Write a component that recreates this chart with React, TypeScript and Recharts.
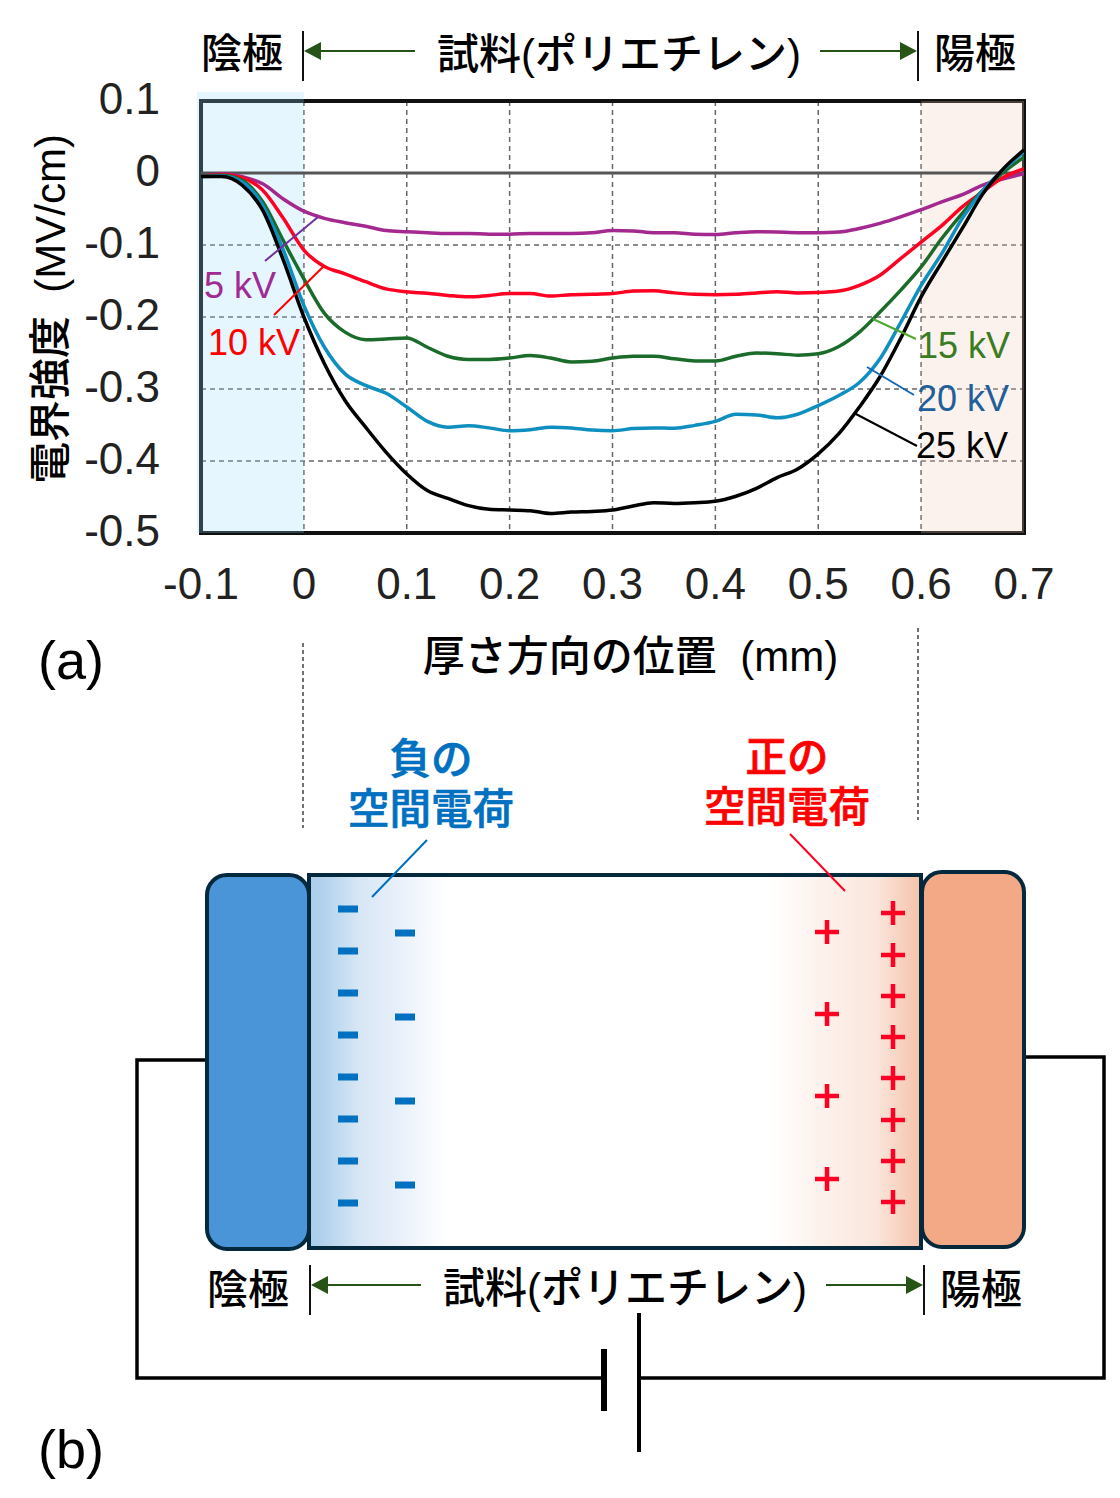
import React from "react";
import {
  LineChart,
  Line,
  XAxis,
  YAxis,
  CartesianGrid,
  ReferenceLine,
  ReferenceArea,
} from "recharts";

const positions = [
  -0.1, -0.08, -0.06, -0.04, -0.02, 0, 0.02, 0.04, 0.06, 0.08, 0.1, 0.12, 0.14, 0.16, 0.18, 0.2, 0.22, 0.24, 0.26, 0.28,
  0.3, 0.32, 0.34, 0.36, 0.38, 0.4, 0.42, 0.44, 0.46, 0.48, 0.5, 0.52, 0.54, 0.56, 0.58, 0.6, 0.62, 0.64, 0.66, 0.68, 0.7,
];
const kv5 = [
  -0.005, -0.001, -0.005, -0.015, -0.036, -0.053, -0.063, -0.069, -0.074, -0.08, -0.0815, -0.083, -0.084, -0.084, -0.085, -0.085, -0.084, -0.084, -0.084, -0.083,
  -0.08, -0.0805, -0.083, -0.083, -0.085, -0.0855, -0.083, -0.0815, -0.082, -0.083, -0.083, -0.082, -0.077, -0.07, -0.061, -0.051, -0.04, -0.03, -0.017, -0.008, -0.001,
];
const kv10 = [
  -0.005, -0.002, -0.0065, -0.024, -0.063, -0.107, -0.13, -0.14, -0.151, -0.161, -0.165, -0.167, -0.17, -0.172, -0.17, -0.1675, -0.1675, -0.171, -0.169, -0.1685,
  -0.1675, -0.164, -0.1635, -0.1665, -0.1685, -0.169, -0.1685, -0.1665, -0.165, -0.1665, -0.166, -0.164, -0.156, -0.142, -0.119, -0.096, -0.073, -0.047, -0.026, -0.006, 0.006,
];
const kv15 = [
  -0.005, -0.003, -0.01, -0.04, -0.094, -0.147, -0.195, -0.221, -0.2315, -0.2305, -0.229, -0.242, -0.2545, -0.259, -0.259, -0.257, -0.2535, -0.257, -0.2625, -0.2615,
  -0.257, -0.2545, -0.2545, -0.258, -0.261, -0.261, -0.2545, -0.25, -0.251, -0.253, -0.251, -0.241, -0.221, -0.193, -0.163, -0.1305, -0.091, -0.056, -0.024, 0.001, 0.022,
];
const kv20 = [
  -0.005, -0.004, -0.0125, -0.045, -0.107, -0.184, -0.242, -0.279, -0.295, -0.306, -0.325, -0.345, -0.353, -0.351, -0.354, -0.358, -0.3565, -0.353, -0.354, -0.357,
  -0.358, -0.355, -0.354, -0.3545, -0.3505, -0.345, -0.335, -0.336, -0.34, -0.335, -0.323, -0.309, -0.291, -0.258, -0.208, -0.156, -0.112, -0.063, -0.024, 0.005, 0.029,
];
const kv25 = [
  -0.005, -0.005, -0.017, -0.052, -0.121, -0.2, -0.265, -0.316, -0.353, -0.388, -0.418, -0.441, -0.452, -0.462, -0.467, -0.468, -0.469, -0.473, -0.471, -0.47,
  -0.468, -0.4625, -0.458, -0.459, -0.458, -0.456, -0.449, -0.438, -0.423, -0.411, -0.39, -0.362, -0.325, -0.283, -0.23, -0.172, -0.124, -0.077, -0.029, 0.006, 0.032,
];
const xTicks = [-0.1, 0, 0.1, 0.2, 0.3, 0.4, 0.5, 0.6, 0.7];
const yTicks = [0.1, 0, -0.1, -0.2, -0.3, -0.4, -0.5];

const rows = positions.map((x, i) => ({ x, kv5: kv5[i], kv10: kv10[i], kv15: kv15[i], kv20: kv20[i], kv25: kv25[i] }));

const JP = "'Liberation Sans', 'Noto Sans CJK JP', sans-serif";
const LATIN = "'Liberation Sans', Arial, sans-serif";

const minusA = [909, 951, 993, 1035, 1077, 1119, 1161, 1203];
const minusB = [933, 1017, 1101, 1185];
const plusA = [932, 1014, 1096, 1179];
const plusB = [913, 955, 996, 1037, 1078, 1120, 1161, 1202];

function T({ x, y, c = "#000", s = 41, a = "middle", f = JP, w = 500, sw = 0, children }: any) {
  return (
    <text x={x} y={y} fill={c} stroke={sw ? c : "none"} strokeWidth={sw} fontSize={s} textAnchor={a} fontFamily={f} fontWeight={w} dominantBaseline="central">
      {children}
    </text>
  );
}

function L({ p, c = "#000", w = 2, d }: any) {
  return <line x1={p[0]} y1={p[1]} x2={p[2]} y2={p[3]} stroke={c} strokeWidth={w} strokeDasharray={d} />;
}

function Span({ y, lx, rx, ll, rr, top, bottom }: any) {
  const arrow = "#275317";
  return (
    <g>
      <L p={[lx, top, lx, bottom]} c="#111" w={2} />
      <L p={[rx, top, rx, bottom]} c="#111" w={2} />
      <L p={[ll, y, lx + 12, y]} c={arrow} w={2} />
      <polygon points={`${lx + 1},${y} ${lx + 18},${y - 9} ${lx + 18},${y + 9}`} fill={arrow} />
      <L p={[rr, y, rx - 12, y]} c={arrow} w={2} />
      <polygon points={`${rx - 1},${y} ${rx - 18},${y - 9} ${rx - 18},${y + 9}`} fill={arrow} />
    </g>
  );
}

function Overlay() {
  const dark = "#04293d";
  return (
    <svg width={1120} height={1498} style={{ position: "absolute", left: 0, top: 0, pointerEvents: "none" }}>
      <defs>
        <linearGradient id="neg" x1="0" x2="1" y1="0" y2="0">
          <stop offset="0" stopColor="#a9cdeb" />
          <stop offset="0.1" stopColor="#b2d2ed" />
          <stop offset="0.35" stopColor="#d6e6f5" />
          <stop offset="0.65" stopColor="#e8f0fa" />
          <stop offset="1" stopColor="#ffffff" />
        </linearGradient>
        <linearGradient id="pos" x1="0" x2="1" y1="0" y2="0">
          <stop offset="0" stopColor="#ffffff" />
          <stop offset="0.3" stopColor="#fdf3ee" />
          <stop offset="0.7" stopColor="#fbe6dc" />
          <stop offset="1" stopColor="#f5c2aa" />
        </linearGradient>
      </defs>

      {/* header */}
      <T x={242} y={54}>陰極</T>
      <T x={975} y={54}>陽極</T>
      <T x={619} y={54} s={42}>試料(ポリエチレン)</T>
      <Span y={51} lx={303} rx={918} ll={415} rr={820} top={31} bottom={81} />

      {/* curve labels */}
      <T x={240} y={285} s={36} f={LATIN} c="#a02b93" w={400}>5 kV</T>
      <L p={[265, 261, 318, 217]} c="#7030a0" />
      <T x={254} y={342} s={36} f={LATIN} c="#ff0000" w={400}>10 kV</T>
      <L p={[274, 315, 324, 266]} c="#ff0000" />
      <T x={964} y={345} s={36} f={LATIN} c="#3a7c22" w={400}>15 kV</T>
      <L p={[873, 319, 916, 339]} c="#4ea72e" />
      <T x={963} y={398} s={36} f={LATIN} c="#215f9a" w={400}>20 kV</T>
      <L p={[867, 367, 914, 395]} c="#156aae" />
      <T x={962} y={445} s={36} f={LATIN} c="#000" w={400}>25 kV</T>
      <L p={[854, 413, 917, 446]} c="#000" />

      <T x={71} y={660} s={54} f={LATIN} w={400}>(a)</T>
      <T x={71} y={1449} s={54} f={LATIN} w={400}>(b)</T>

      {/* guides */}
      <L p={[303, 643, 303, 828]} c="#444" w={1.5} d="4 3" />
      <L p={[918, 628, 918, 820]} c="#444" w={1.5} d="4 3" />

      {/* space charge labels */}
      <T x={431} y={759} c="#0070c0" s={41.5} sw={0.7}>負の</T>
      <T x={431} y={809} c="#0070c0" s={41.5} sw={0.7}>空間電荷</T>
      <T x={787} y={757} c="#ff0000" s={41.5} sw={0.7}>正の</T>
      <T x={787} y={807} c="#ff0000" s={41.5} sw={0.7}>空間電荷</T>

      {/* circuit */}
      <polyline points="207,1060 137,1060 137,1378 604,1378" fill="none" stroke="#000" strokeWidth={3.5} />
      <polyline points="1024,1057 1104,1057 1104,1378 640,1378" fill="none" stroke="#000" strokeWidth={3.5} />
      <L p={[604, 1349, 604, 1411]} w={6} />
      <L p={[639, 1313, 639, 1452]} w={4} />

      {/* sample and electrodes */}
      <rect x={310} y={875} width={611} height={373} fill="#fff" />
      <rect x={310} y={875} width={136} height={373} fill="url(#neg)" />
      <rect x={770} y={875} width={151} height={373} fill="url(#pos)" />
      <rect x={309} y={875} width={612} height={373} fill="none" stroke={dark} strokeWidth={4} />
      <rect x={207} y={875} width={102} height={374} rx={20} fill="#4a94d8" stroke={dark} strokeWidth={4} />
      <rect x={922} y={872} width={102} height={375} rx={20} fill="#f4a986" stroke={dark} strokeWidth={4} />
      <L p={[427, 840, 372, 897]} c="#0070c0" />
      <L p={[790, 834, 845, 891]} c="#ff0022" />

      {minusA.map((y) => <rect key={y} x={338} y={y - 3.5} width={20} height={7} fill="#0070c0" />)}
      {minusB.map((y) => <rect key={y} x={395} y={y - 3.5} width={20} height={7} fill="#0070c0" />)}
      {plusA.map((y) => (
        <g key={y}>
          <L p={[815, y, 839, y]} c="#ff0022" w={4.5} />
          <L p={[827, y - 12, 827, y + 12]} c="#ff0022" w={4.5} />
        </g>
      ))}
      {plusB.map((y) => (
        <g key={y}>
          <L p={[881, y, 905, y]} c="#ff0022" w={4.5} />
          <L p={[893, y - 12, 893, y + 12]} c="#ff0022" w={4.5} />
        </g>
      ))}

      {/* diagram labels */}
      <T x={248} y={1290}>陰極</T>
      <T x={981} y={1290}>陽極</T>
      <T x={625} y={1288} s={42}>試料(ポリエチレン)</T>
      <Span y={1285} lx={310} rx={924} ll={421} rr={826} top={1265} bottom={1315} />
    </svg>
  );
}

export default function App() {
  return (
    <div style={{ position: "absolute", left: 0, top: 0, width: 1120, height: 1498, background: "#fff" }}>
      <LineChart
        width={1120}
        height={1498}
        data={rows}
        margin={{ top: 101, right: 96, bottom: 875, left: 101 }}
      >
        <CartesianGrid stroke="#666" strokeWidth={1.5} strokeDasharray="5 4" />
        <XAxis
          dataKey="x"
          type="number"
          domain={[-0.1, 0.7]}
          ticks={xTicks}
          allowDataOverflow
          axisLine={false}
          tickLine={false}
          tickSize={0}
          tickMargin={35}
          height={90}
          interval={0}
          tick={{ fontSize: 44, fill: "#222", fontFamily: LATIN }}
          label={{
            value: "厚さ方向の位置\u00a0\u00a0(mm)",
            position: "bottom",
            offset: 18,
            dx: 18,
            style: { fontSize: 42, fill: "#000", fontFamily: JP, fontWeight: 500 },
          }}
        />
        <YAxis
          type="number"
          domain={[-0.5, 0.1]}
          ticks={yTicks}
          allowDataOverflow
          axisLine={false}
          tickLine={false}
          tickSize={0}
          tickMargin={41}
          width={100}
          interval={0}
          tick={{ fontSize: 44, fill: "#222", fontFamily: LATIN, dy: -3 }}
          label={{
            value: "電界強度\u00a0\u00a0(MV/cm)",
            angle: -90,
            position: "left",
            offset: 61,
            dx: 10,
            dy: -8,
            style: { fontSize: 42, fill: "#000", fontFamily: JP, fontWeight: 500, textAnchor: "middle" },
          }}
        />
        <ReferenceLine y={0} stroke="#555" strokeWidth={3} />
        <Line dataKey="kv5" type="monotone" stroke="#a3288f" strokeWidth={3.5} dot={false} isAnimationActive={false} />
        <Line dataKey="kv10" type="monotone" stroke="#ff0022" strokeWidth={3.5} dot={false} isAnimationActive={false} />
        <Line dataKey="kv15" type="monotone" stroke="#1b6b2a" strokeWidth={3.5} dot={false} isAnimationActive={false} />
        <Line dataKey="kv20" type="monotone" stroke="#0f8fc0" strokeWidth={3.5} dot={false} isAnimationActive={false} />
        <Line dataKey="kv25" type="monotone" stroke="#000" strokeWidth={3.5} dot={false} isAnimationActive={false} />
        <ReferenceArea x1={-0.1} x2={0.7} y1={-0.5} y2={0.1} fill="none" stroke="#111" strokeWidth={4} ifOverflow="visible" />
        <ReferenceArea x1={-0.104} x2={0} y1={-0.5} y2={0.1125} fill="rgb(150,218,250)" fillOpacity={0.247} ifOverflow="visible" />
        <ReferenceArea x1={0.6} x2={0.7} y1={-0.5} y2={0.1} fill="rgb(239,202,181)" fillOpacity={0.243} ifOverflow="visible" />
      </LineChart>
      <Overlay />
    </div>
  );
}
